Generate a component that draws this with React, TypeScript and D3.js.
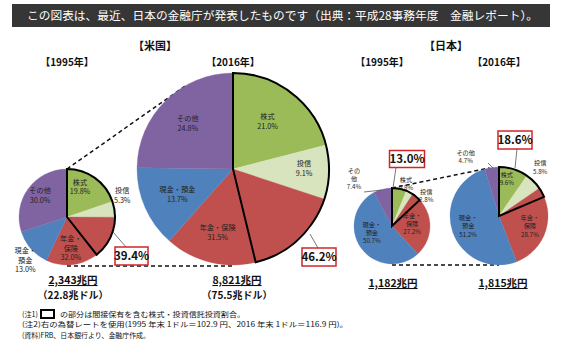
import React from "react";
import * as d3 from "d3";

// ---------- data ----------
const categories = ["株式", "投信", "年金・保険", "現金・預金", "その他"];
const us1995 = [19.8, 5.3, 32.0, 13.0, 30.0];
const us2016 = [21.0, 9.1, 31.5, 13.7, 24.8];
const jp1995 = [5.8, 2.8, 27.2, 50.7, 7.4];
const jp2016 = [9.6, 5.8, 28.7, 51.2, 4.7];
const highlightShare = [39.4, 46.2, 13.0, 18.6];
const totalsYen = ["2,343兆円", "8,821兆円", "1,182兆円", "1,815兆円"];
const totalsUsd = ["（22.8兆ドル）", "（75.5兆ドル）", "", ""];
const years = ["【1995年】", "【2016年】", "【1995年】", "【2016年】"];
const countries = ["【米国】", "【日本】"];
const title = "この図表は、最近、日本の金融庁が発表したものです（出典：平成28事務年度　金融レポート）。";
const notes = [
  "の部分は間接保有を含む株式・投資信託投資割合。",
  "(注2)右の為替レートを使用(1995 年末 1ドル＝102.9 円、2016 年末 1ドル＝116.9 円)。",
  "(資料)FRB、日本銀行より、金融庁作成。",
];

// ---------- layout / style ----------
const colors = ["#9BBB59", "#D7E4BD", "#C0504D", "#4F81BD", "#8064A2"];
const FONT = "'Noto Sans CJK JP', 'Noto Sans', sans-serif";

type LabelCfg = { lines: string[]; fx: number; fy: number };
type PieCfg = {
  values: number[];
  cx: number;
  cy: number;
  r: number;
  fs: number;
  lh: number;
  yearX: number;
  totalX: number;
  labels: LabelCfg[];
  box: { cx: number; cy: number; w: number; h: number };
  leader: [number, number][];
  extraLeaders: [number, number, number, number][];
};

const pct = (v: number) => v.toFixed(1) + "%";

function split(name: string, mode: number): string[] {
  if (mode === 0) return [name];
  if (name === "その他") return mode === 2 ? ["その", "他"] : ["その他"];
  const i = name.indexOf("・");
  return i >= 0 ? [name.slice(0, i + 1), name.slice(i + 1)] : [name];
}

function makeLabels(values: number[], modes: number[], pos: [number, number][]): LabelCfg[] {
  return values.map((v, i) => ({
    lines: [...split(categories[i], modes[i]), pct(v)],
    fx: pos[i][0],
    fy: pos[i][1],
  }));
}

const pies: PieCfg[] = [
  {
    values: us1995,
    cx: 67, cy: 217, r: 48, fs: 7.2, lh: 9.5, yearX: 67, totalX: 73,
    labels: makeLabels(us1995, [0, 0, 1, 1, 0], [
      [0.27, -0.67], [1.15, -0.5], [0.08, 0.5], [-0.87, 0.76], [-0.56, -0.5],
    ]),
    box: { cx: 131.5, cy: 256, w: 33, h: 18 },
    leader: [[113, 232], [126, 247]],
    extraLeaders: [],
  },
  {
    values: us2016,
    cx: 233, cy: 169, r: 96, fs: 7.2, lh: 10, yearX: 233, totalX: 237,
    labels: makeLabels(us2016, [0, 0, 0, 0, 0], [
      [0.36, -0.52], [0.74, -0.03], [-0.16, 0.64], [-0.58, 0.24], [-0.47, -0.5],
    ]),
    box: { cx: 319, cy: 257, w: 34, h: 18 },
    leader: [[310, 234], [318, 248]],
    extraLeaders: [],
  },
  {
    values: jp1995,
    cx: 392, cy: 226, r: 38, fs: 6.2, lh: 8.3, yearX: 382, totalX: 393,
    labels: makeLabels(jp1995, [0, 0, 1, 1, 2], [
      [0.37, -1.16], [0.9, -0.84], [0.53, -0.22], [-0.53, 0.02], [-1.0, -1.4],
    ]),
    box: { cx: 407, cy: 159, w: 35, h: 17 },
    leader: [[393, 188], [396, 167.5]],
    extraLeaders: [[364, 192, 382, 190]],
  },
  {
    values: jp2016,
    cx: 499, cy: 216, r: 49, fs: 6.2, lh: 8.5, yearX: 499, totalX: 503,
    labels: makeLabels(jp2016, [0, 0, 1, 1, 0], [
      [0.16, -0.8], [0.84, -1.04], [0.63, 0.08], [-0.63, 0.08], [-0.68, -1.25],
    ]),
    box: { cx: 515, cy: 140, w: 34, h: 18 },
    leader: [[515, 168], [517, 149]],
    extraLeaders: [[488, 163, 493, 168]],
  },
];

// dashed connectors: [small pie idx, big pie idx, angle on big pie (deg, clockwise from 12 o'clock)]
const connectors: [number, number, number][] = [
  [0, 1, -29],
  [2, 3, -11],
];

const pieGen = d3.pie<number>().sort(null).value((d) => d).startAngle(0).endAngle(2 * Math.PI);

function Pie({ cfg, hl }: { cfg: PieCfg; hl: number }) {
  const arcs = pieGen(cfg.values);
  const arc = d3.arc<d3.PieArcDatum<number>>().innerRadius(0).outerRadius(cfg.r);
  const hlArc = d3.arc()({
    innerRadius: 0,
    outerRadius: cfg.r,
    startAngle: 0,
    endAngle: (hl / 100) * 2 * Math.PI,
  } as any) as string;
  return (
    <g>
      <g transform={`translate(${cfg.cx},${cfg.cy})`}>
        {arcs.map((a, i) => (
          <path key={i} d={arc(a) as string} fill={colors[i]} stroke={colors[i]} strokeWidth={0.3} />
        ))}
        <path d={hlArc} fill="none" stroke="#000" strokeWidth={2} strokeLinejoin="miter" />
        {cfg.labels.map((l, i) => {
          const x = l.fx * cfg.r;
          const y = l.fy * cfg.r;
          return (
            <text key={i} x={x} y={y} textAnchor="middle" fontSize={cfg.fs} fontFamily={FONT} fill="#222">
              {l.lines.map((t, j) => (
                <tspan key={j} x={x} dy={j === 0 ? 0 : cfg.lh}>
                  {t}
                </tspan>
              ))}
            </text>
          );
        })}
      </g>
      {[cfg.leader].map((p, i) => (
        <line key={i} x1={p[0][0]} y1={p[0][1]} x2={p[1][0]} y2={p[1][1]} stroke="#555" strokeWidth={0.8} />
      ))}
      {cfg.extraLeaders.map((p, i) => (
        <line key={"e" + i} x1={p[0]} y1={p[1]} x2={p[2]} y2={p[3]} stroke="#555" strokeWidth={0.8} />
      ))}
      <rect
        x={cfg.box.cx - cfg.box.w / 2}
        y={cfg.box.cy - cfg.box.h / 2}
        width={cfg.box.w}
        height={cfg.box.h}
        fill="#fff"
        stroke="#D0262A"
        strokeWidth={1.5}
      />
      <text
        x={cfg.box.cx}
        y={cfg.box.cy + 4.2}
        textAnchor="middle"
        fontSize={11.5}
        fontWeight="bold"
        fontFamily={FONT}
        fill="#111"
      >
        {pct(hl)}
      </text>
    </g>
  );
}

export default function App() {
  const W = 567;
  const H = 348;
  return (
    <svg width={W} height={H} style={{ position: "absolute", left: 0, top: 0, background: "#fff" }}>
      <rect x={0} y={0} width={W} height={H} fill="#fff" />
      {/* title bar */}
      <rect x={12} y={4} width={538} height={23} fill="#363636" />
      <text x={27} y={20} fontSize={11.5} fill="#fff" fontFamily={FONT} textLength={511} lengthAdjust="spacingAndGlyphs">
        {title}
      </text>

      {/* country headers */}
      <text x={155} y={50} textAnchor="middle" fontSize={11} fontWeight="bold" fontFamily={FONT} fill="#111">
        {countries[0]}
      </text>
      <text x={446} y={50} textAnchor="middle" fontSize={11} fontWeight="bold" fontFamily={FONT} fill="#111">
        {countries[1]}
      </text>
      {pies.map((p, i) => (
        <text key={i} x={p.yearX} y={66} textAnchor="middle" fontSize={10} fontWeight="bold" fontFamily={FONT} fill="#111">
          {years[i]}
        </text>
      ))}

      {/* dashed connectors */}
      {connectors.map(([a, b, ang], i) => {
        const s = pies[a];
        const t = pies[b];
        const rad = (ang * Math.PI) / 180;
        const tx = t.cx + t.r * Math.sin(rad);
        const ty = t.cy - t.r * Math.cos(rad);
        return (
          <g key={i} stroke="#111" strokeWidth={1.5} strokeDasharray="4,3" fill="none">
            <line x1={s.cx} y1={s.cy - s.r} x2={tx} y2={ty} />
            <line x1={s.cx} y1={s.cy + s.r + 1} x2={t.cx} y2={s.cy + s.r + 1} />
          </g>
        );
      })}

      {pies.map((p, i) => (
        <Pie key={i} cfg={p} hl={highlightShare[i]} />
      ))}

      {/* totals */}
      {pies.map((p, i) => (
        <g key={i}>
          <text x={p.totalX} y={i < 2 ? 284 : 287} textAnchor="middle" fontSize={10.5} fontWeight="bold" fontFamily={FONT} fill="#111" textDecoration="underline">
            {totalsYen[i]}
          </text>
          {totalsUsd[i] && (
            <text x={p.totalX} y={299} textAnchor="middle" fontSize={10} fontWeight="bold" fontFamily={FONT} fill="#111">
              {totalsUsd[i]}
            </text>
          )}
        </g>
      ))}

      {/* notes */}
      <text x={22} y={316.5} fontSize={7} fontFamily={FONT} fill="#111" textLength={16} lengthAdjust="spacingAndGlyphs">(注1)</text>
      <rect x={41} y={310} width={13} height={8} fill="#fff" stroke="#000" strokeWidth={2} />
      <text x={60} y={316.5} fontSize={7} fontFamily={FONT} fill="#111" textLength={185} lengthAdjust="spacingAndGlyphs">{notes[0]}</text>
      <text x={22} y={327} fontSize={7} fontFamily={FONT} fill="#111" textLength={326} lengthAdjust="spacingAndGlyphs">{notes[1]}</text>
      <text x={22} y={337.5} fontSize={7} fontFamily={FONT} fill="#111" textLength={128} lengthAdjust="spacingAndGlyphs">{notes[2]}</text>
    </svg>
  );
}
